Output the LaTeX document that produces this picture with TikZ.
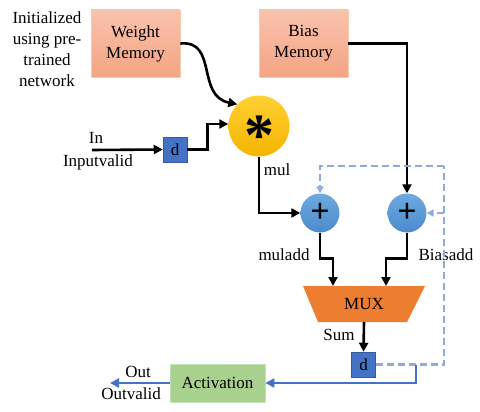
\documentclass[tikz,border=0pt]{standalone}
\usepackage{fontspec}
\setmainfont{Liberation Serif}
\usetikzlibrary{arrows.meta,calc}
\definecolor{memT}{HTML}{F9C2AD}
\definecolor{memB}{HTML}{F4A483}
\definecolor{memD}{HTML}{F8CBAD}
\definecolor{yelT}{HTML}{FFD033}
\definecolor{yelB}{HTML}{F5B400}
\definecolor{bluT}{HTML}{6DAAE0}
\definecolor{bluB}{HTML}{4C8ACB}
\definecolor{dblue}{HTML}{4472C4}
\definecolor{lblue}{HTML}{8FAADC}
\definecolor{actg}{HTML}{A9D18E}
\definecolor{actd}{HTML}{C5E0B4}
\definecolor{muxo}{HTML}{ED7D31}
\tikzset{
  mem/.style={rectangle, draw=memD, line width=0.8pt, top color=memT, bottom color=memB,
    minimum width=89pt, minimum height=67pt, align=center, inner sep=0pt},
  dbox/.style={rectangle, draw=dblue!80!black, line width=0.5pt, fill=dblue,
    minimum width=24pt, minimum height=25pt, inner sep=0pt},
  addc/.style={circle, top color=bluT, bottom color=bluB, minimum size=39pt, inner sep=0pt,
    font=\fontsize{34}{34}\selectfont\bfseries},
  lbl/.style={inner sep=0pt},
  arr/.style={line width=2.6pt, draw=black, -{Triangle[length=9pt,width=9pt]}},
  barr/.style={line width=2.4pt, draw=dblue, -{Triangle[length=9pt,width=9pt]}},
  darr/.style={line width=2.2pt, draw=lblue, dash pattern=on 7pt off 4pt, -{Triangle[length=7pt,width=7pt]}},
  dline/.style={line width=2.2pt, draw=lblue, dash pattern=on 7pt off 4pt},
}
\begin{document}
\begin{tikzpicture}[x=1pt,y=-1pt, font=\fontsize{17}{21}\selectfont]
\useasboundingbox (0,0) rectangle (480,412);
% memories
\node[mem] (wm) at (135.5,43.5) {Weight\\Memory};
\node[mem] (bm) at (303.5,43.5) {Bias\\Memory};
\node[lbl, align=center] (init) at (47,49) {Initialized\\using pre-\\trained\\network};
% multiplier
\node[circle, top color=yelT, bottom color=yelB, minimum size=61pt, inner sep=0pt,
  text height=0pt, text depth=0pt, font=\fontsize{60}{60}\selectfont\bfseries] (mult) at (259,126) {\raisebox{-29pt}{*}};
% input delay
\node[dbox] (d1) at (175,149.5) {d};
\coordinate (inS) at (92,150);
\node[lbl] (inl) at (96,138) {In};
\node[lbl] (invl) at (98,162) {Inputvalid};
% adders
\node[addc] (p1) at (320,213) {+};
\node[addc] (p2) at (407,213) {+};
% MUX
\coordinate (muxTL) at (303,286);
\coordinate (muxTR) at (425,286);
\coordinate (muxBR) at (407,322);
\coordinate (muxBL) at (318,322);
\fill[muxo] (muxTL) -- (muxTR) -- (muxBR) -- (muxBL) -- cycle;
\node[lbl] (mux) at (364,304) {MUX};
\coordinate (muxA) at (333,286);
\coordinate (muxB) at (386,286);
\coordinate (muxOut) at (364,322);
% output delay
\node[dbox] (d2) at (363.5,364.5) {d};
% activation
\node[rectangle, draw=actd, line width=0.8pt, fill=actg, minimum width=95pt, minimum height=38pt, inner sep=0pt] (act) at (217.5,383) {Activation};
\coordinate (outE) at (110,383);
\node[lbl] (outl) at (138,372) {Out};
\node[lbl] (outvl) at (131,394) {Outvalid};
% labels
\node[lbl] (mull) at (277,170) {mul};
\node[lbl] (muladdl) at (284,255) {muladd};
\node[lbl] (biasaddl) at (446,255) {Biasadd};
\node[lbl] (suml) at (339,335) {Sum};
% connectors
\draw[arr] (inS) -- (d1.west);
\draw[arr] (d1.east) -- ++(20,0) |- ($(mult.west)+(0,-2)$);
\draw[arr] (wm.east) .. controls (218,40) and (196,96) .. (mult.135);
\draw[arr] (mult.south) |- (p1.west);
\draw[arr] (bm.east) -| (p2.north);
\draw[arr] (p1.south) -- ++(0,26) -| (muxA);
\draw[arr] (p2.south) -- ++(0,26) -| (muxB);
\draw[arr] (muxOut) -- (d2.north);
\coordinate (fbR) at (444,166);
\coordinate (fbM) at (444,213);
\coordinate (tap) at (416,364.5);
\draw[dline] (d2.east) -| (fbR);
\draw[darr] (fbR) -| (p1.north);
\draw[darr] (fbM) -- (p2.east);
\draw[barr] (tap) |- (act.east);
\draw[barr] (act.west) -- (outE);
\end{tikzpicture}
\end{document}
